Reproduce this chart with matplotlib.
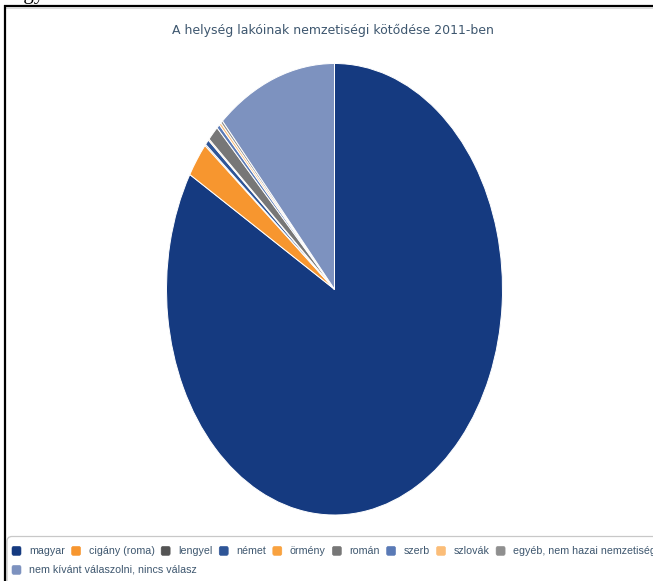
import matplotlib
matplotlib.use("Agg")
import matplotlib.pyplot as plt
from matplotlib.patches import FancyBboxPatch

# ---- data ----
categories = ["magyar", "cigány (roma)", "lengyel", "német", "örmény", "román",
              "szerb", "szlovák", "egyéb, nem hazai nemzetiség",
              "nem kívánt válaszolni, nincs válasz"]
values = [83.4, 2.5, 0.1, 0.4, 0.1, 1.1, 0.3, 0.2, 0.2, 11.6]
colors = ["#153a80", "#f7962f", "#545454", "#2e5597", "#f9a23f", "#777777",
          "#5a7ab6", "#fbbd78", "#8f8f8f", "#7d92bf"]
title = "A helység lakóinak nemzetiségi kötődése 2011-ben"

W, H = 653, 581
fig = plt.figure(figsize=(W / 100, H / 100), dpi=100)
fig.patch.set_facecolor("white")

# pie axes (stretched ellipse)
left, right, top, bottom = 166.5, 502.5, 63.5, 515
ax = fig.add_axes([left / W, 1 - bottom / H, (right - left) / W, (bottom - top) / H])
ax.pie(values, colors=colors, startangle=90, counterclock=False,
       wedgeprops=dict(edgecolor="white", linewidth=0.7))
ax.set_aspect("auto")
ax.set_xlim(-1, 1)
ax.set_ylim(-1, 1)
ax.axis("off")

# overlay axes in pixel coordinates (origin top-left)
ov = fig.add_axes([0, 0, 1, 1], facecolor="none", zorder=5)
ov.set_xlim(0, W)
ov.set_ylim(H, 0)
ov.axis("off")

# title
ov.text(332.5, 30, title, ha="center", va="center",
        fontsize=9.0, color="#3e576f", family="DejaVu Sans")

# frame lines
ov.plot([4, W], [5.5, 5.5], color="black", lw=1.6, solid_capstyle="butt")
ov.plot([6, W], [8, 8], color="#d6d6d6", lw=1.2, solid_capstyle="butt")
ov.plot([4.5, 4.5], [5, H], color="black", lw=1.6, solid_capstyle="butt")

# clipped text above the frame
ov.text(14, -1.5, "egy", ha="left", va="baseline", fontsize=15,
        family="Liberation Serif", color="black", clip_on=False)

# legend box
ov.add_patch(FancyBboxPatch((7, 536.5), W + 20, 60,
                            boxstyle="round,pad=0,rounding_size=5",
                            facecolor="white", edgecolor="#c8c8c8", lw=0.9))

fig.canvas.draw()
renderer = fig.canvas.get_renderer()

row_y = [551, 570]
x_text = 29
gap_after_text = 7.2
marker_to_text = 16.5
for i, name in enumerate(categories):
    if i == len(categories) - 1:
        tx, ty = 29, row_y[1]
    else:
        tx, ty = x_text, row_y[0]
    mx = tx - marker_to_text
    ov.add_patch(FancyBboxPatch((mx - 0.5, ty - 4.6), 9, 9,
                                boxstyle="round,pad=0,rounding_size=1.8",
                                facecolor=colors[i], edgecolor=colors[i], lw=0.4))
    t = ov.text(tx, ty, name, ha="left", va="center",
                fontsize=7.7, color="#3e576f", family="Liberation Sans")
    if i < len(categories) - 1:
        bb = t.get_window_extent(renderer=renderer)
        x_text = tx + bb.width + gap_after_text + marker_to_text

fig.savefig("out.png", dpi=100)
